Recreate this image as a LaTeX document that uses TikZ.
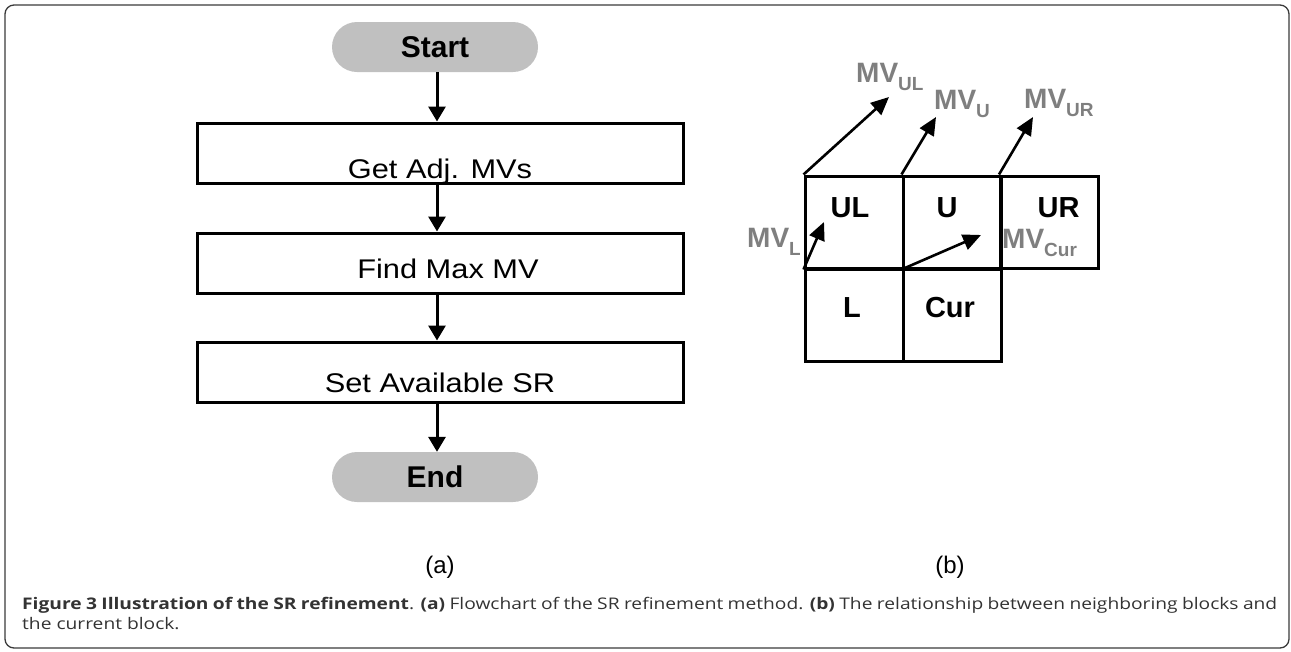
\documentclass[tikz,border=0pt]{standalone}
\usepackage{fontspec}
\setmainfont{Liberation Sans}
\newfontfamily\boxfont[FakeStretch=1.14]{Liberation Sans}
\newfontfamily\capfont[FakeStretch=1.2]{Open Sans}
\usetikzlibrary{arrows.meta,shapes.misc}
\definecolor{pillgray}{HTML}{C0C0C0}
\definecolor{mvgray}{HTML}{7F7F7F}
\definecolor{framegray}{HTML}{3A3A3A}
\definecolor{captext}{HTML}{333333}
\newcommand{\fs}[1]{\fontsize{#1}{#1}\selectfont}
\newcommand{\mvlab}[1]{{\fs{28}\bfseries MV}\raisebox{-8pt}{\fs{19}\bfseries #1}}
\tikzset{
  pill/.style={rounded rectangle, fill=pillgray, draw=none, minimum width=206pt, minimum height=50pt, inner sep=0pt, font=\fs{30}\bfseries},
  stepbox/.style={rectangle, draw=black, line width=3pt, minimum width=486pt, minimum height=60pt, inner sep=0pt, font=\boxfont\fs{27}},
  cell/.style={rectangle, draw=black, line width=3pt, minimum width=98pt, minimum height=92pt, inner sep=0pt},
  cellab/.style={font=\fs{29}\bfseries, inner sep=0pt},
  flowarr/.style={line width=3pt, -{Triangle[width=17pt,length=15pt]}},
  mvarr/.style={line width=2.6pt, -{Triangle[width=16pt,length=18pt]}},
  mvtext/.style={text=mvgray, inner sep=0pt, anchor=base west},
  sublabel/.style={font=\fs{24}, inner sep=0pt},
  captxt/.style={font=\capfont\fs{16}, text=captext, inner sep=0pt, anchor=base west}
}
\begin{document}
\begin{tikzpicture}[x=1pt,y=-1pt]
\useasboundingbox (0,0) rectangle (1291,651);
\draw[framegray, line width=1.3pt, rounded corners=9pt] (5,5) rectangle (1289,648);

% flowchart
\node[pill] (start) at (435,47) {Start};
\node[stepbox] (b1) at (440,153) {\smash{\raisebox{-25pt}{Get Adj. MVs}}};
\node[stepbox] (b2) at (440,263) {\smash{\raisebox{-15pt}{\hspace*{16pt}Find Max MV}}};
\node[stepbox] (b3) at (440,372) {\smash{\raisebox{-20pt}{Set Available SR}}};
\node[pill] (end) at (435,477) {End};
\draw[flowarr] (start.south) ++(2pt,0) coordinate (s0) -- (s0 |- b1.north);
\draw[flowarr] (b1.south -| s0) -- (s0 |- b2.north);
\draw[flowarr] (b2.south -| s0) -- (s0 |- b3.north);
\draw[flowarr] (b3.south -| s0) -- (s0 |- end.north);

% blocks
\node[cell, label={[cellab, xshift=-4pt, yshift=14pt]center:UL}] (ul) at (854,222) {};
\node[cell, label={[cellab, xshift=-5pt, yshift=14pt]center:U}] (u) at (952,222) {};
\node[cell, label={[cellab, xshift=9pt, yshift=14pt]center:UR}] (ur) at (1049.5,222) {};
\node[cell, label={[cellab, xshift=-2pt, yshift=7pt]center:L}] (l) at (854,315) {};
\node[cell, label={[cellab, xshift=-2pt, yshift=7pt]center:Cur}] (cur) at (952,315) {};

\coordinate (eul) at (889,97);
\coordinate (eu) at (936,117);
\coordinate (eur) at (1033,117);
\coordinate (el) at (824,222);
\coordinate (ecur) at (981,235);
\draw[mvarr] (ul.north west) -- (eul);
\draw[mvarr] (u.north west) -- (eu);
\draw[mvarr] (ur.north west) -- (eur);
\draw[mvarr] (ul.south west) -- (el);
\draw[mvarr] (u.south west) -- (ecur);

\node[mvtext] (mvul) at (856,82) {\mvlab{UL}};
\node[mvtext] (mvu) at (934,109) {\mvlab{U}};
\node[mvtext] (mvur) at (1024,108) {\mvlab{UR}};
\node[mvtext] (mvl) at (747,247) {\mvlab{L}};
\node[mvtext] (mvcur) at (1002,248) {\mvlab{Cur}};

% sub-figure labels
\node[sublabel] (la) at (440,567) {(a)};
\node[sublabel] (lb) at (950,567) {(b)};

% caption
\node[captxt] (cap1) at (22,609) {\makebox[1255pt][s]{\textbf{Figure 3 Illustration of the SR refinement}. \textbf{(a)} Flowchart of the SR refinement method. \textbf{(b)} The relationship between neighboring blocks and}};
\node[captxt] (cap2) at (22,629) {the current block.};
\end{tikzpicture}
\end{document}
